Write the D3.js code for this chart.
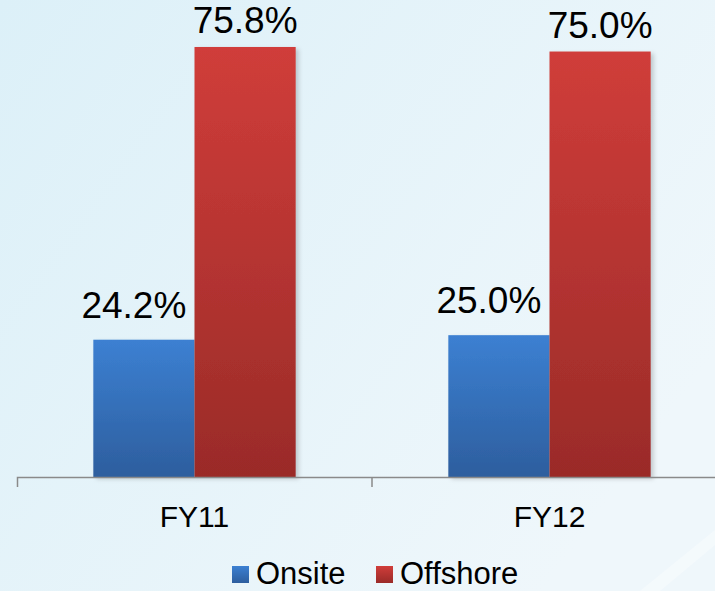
<!DOCTYPE html>
<html>
<head>
<meta charset="utf-8">
<script src="https://cdn.jsdelivr.net/npm/d3@7"></script>
<style>
  html, body { margin: 0; padding: 0; background: #e4f2f9; }
  svg { display: block; font-family: "Liberation Sans", Arial, sans-serif; }
</style>
</head>
<body>
<svg id="viz"></svg>
<script>
var width = 715;
var height = 591;

// data
var categories = ["FY11", "FY12"];
var seriesNames = ["Onsite", "Offshore"];
var onsite = [24.2, 25.0];
var offshore = [75.8, 75.0];

var colors = {
    Onsite: ["#3c80d2", "#2d5e9e"],
    Offshore: ["#d03d3a", "#9a2b28"]
};

var svg = d3.select("#viz").attr("width", width).attr("height", height);
var defs = svg.append("defs");

// background gradient
var bg = defs.append("linearGradient").attr("id", "bg")
    .attr("x1", "0").attr("y1", "0").attr("x2", "1").attr("y2", "0.6");
bg.append("stop").attr("offset", "0").attr("stop-color", "#dcf0f8");
bg.append("stop").attr("offset", "1").attr("stop-color", "#eff7fb");

seriesNames.forEach(function(s) {
    var g = defs.append("linearGradient").attr("id", "grad-" + s)
        .attr("x1", "0").attr("y1", "0").attr("x2", "0").attr("y2", "1");
    g.append("stop").attr("offset", "0").attr("stop-color", colors[s][0]);
    g.append("stop").attr("offset", "1").attr("stop-color", colors[s][1]);
});

var shadow = defs.append("filter").attr("id", "shadow")
    .attr("x", "-10%").attr("y", "-10%").attr("width", "130%").attr("height", "130%");
shadow.append("feDropShadow")
    .attr("dx", 3).attr("dy", 2).attr("stdDeviation", 2)
    .attr("flood-color", "#000").attr("flood-opacity", 0.18);

svg.append("rect").attr("width", width).attr("height", height).attr("fill", "url(#bg)");
// faint diagonal sheen bottom right
svg.append("path")
    .attr("d", "M640,591 L715,530 L715,545 L660,591 Z")
    .attr("fill", "#ffffff").attr("opacity", 0.35);

var x0 = d3.scaleBand().domain(categories).range([17, 727]).padding(0);
var x1 = d3.scaleBand().domain(seriesNames)
    .range([x0.bandwidth() * 0.215, x0.bandwidth() * 0.785]).padding(0);
var y = d3.scaleLinear().domain([0, 80]).range([477, 477 - 80 * 5.673]);

var rows = categories.map(function(c, i) {
    return { cat: c, values: [
        { key: "Onsite", value: onsite[i] },
        { key: "Offshore", value: offshore[i] }
    ]};
});

var groups = svg.selectAll("g.cat")
    .data(rows)
    .enter().append("g")
    .attr("class", "cat")
    .attr("transform", function(d) { return "translate(" + x0(d.cat) + ",0)"; });

groups.selectAll("rect")
    .data(function(d) { return d.values; })
    .enter().append("rect")
    .attr("x", function(d) { return x1(d.key); })
    .attr("y", function(d) { return y(d.value); })
    .attr("width", x1.bandwidth())
    .attr("height", function(d) { return y(0) - y(d.value); })
    .attr("fill", function(d) { return "url(#grad-" + d.key + ")"; })
    .attr("filter", "url(#shadow)");

groups.selectAll("text.val")
    .data(function(d) { return d.values; })
    .enter().append("text")
    .attr("class", "val")
    .attr("x", function(d) { return x1(d.key) + x1.bandwidth() / 2 + (d.key == "Onsite" ? -10 : 0); })
    .attr("y", function(d) { return y(d.value) - (d.key == "Onsite" ? 22 : 14); })
    .attr("text-anchor", "middle")
    .attr("font-size", "37px")
    .attr("fill", "#000")
    .text(function(d) { return d.value.toFixed(1) + "%"; });

// axis
var axis = svg.append("g")
    .attr("transform", "translate(0," + y(0) + ")")
    .call(d3.axisBottom(x0).tickSizeInner(0).tickSizeOuter(10).tickPadding(29));
axis.select(".domain").attr("stroke", "#8a8a8a").attr("stroke-width", 1.5);
axis.selectAll("text").attr("font-size", "30px").attr("fill", "#000")
    .attr("font-family", "Liberation Sans, Arial, sans-serif");

// boundary ticks between categories
svg.selectAll("line.sep")
    .data(categories.slice(1))
    .enter().append("line")
    .attr("class", "sep")
    .attr("x1", function(d) { return x0(d); })
    .attr("x2", function(d) { return x0(d); })
    .attr("y1", y(0)).attr("y2", y(0) + 10)
    .attr("stroke", "#8a8a8a").attr("stroke-width", 1.5);

// legend
var legendX = [232, 376];
var legend = svg.selectAll("g.legend")
    .data(seriesNames)
    .enter().append("g")
    .attr("class", "legend")
    .attr("transform", function(d, i) { return "translate(" + legendX[i] + ",566)"; });
legend.append("rect")
    .attr("width", 17).attr("height", 17)
    .attr("fill", function(d) { return "url(#grad-" + d + ")"; });
legend.append("text")
    .attr("x", 24).attr("y", 18)
    .attr("font-size", "31px")
    .attr("fill", "#000")
    .text(function(d) { return d; });
</script>
</body>
</html>
